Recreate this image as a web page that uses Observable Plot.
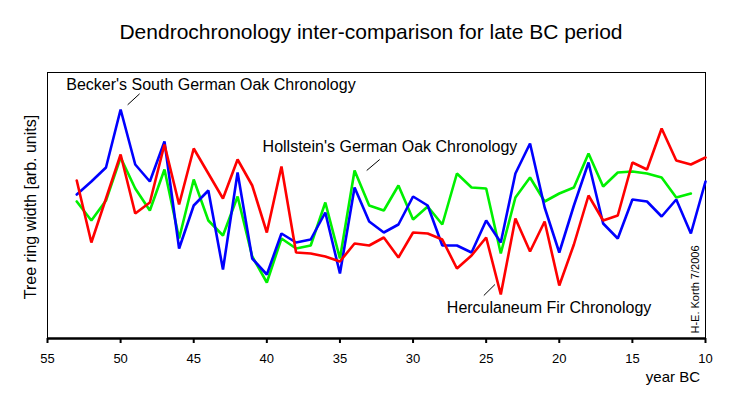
<!DOCTYPE html>
<html>
<head>
<meta charset="utf-8">
<script src="https://cdn.jsdelivr.net/npm/d3@7"></script>
<script src="https://cdn.jsdelivr.net/npm/@observablehq/plot@0.6"></script>
<style>
  body { margin: 0; background: #fff; }
  #chart { position: relative; width: 730px; height: 394px; }
  #chart svg { display: block; }
  g[aria-label="x-axis tick"] path { stroke-width: 2; }
</style>
</head>
<body>
<div id="chart"></div>
<script>
// ---- Data ----
const years = [53,52,51,50,49,48,47,46,45,44,43,42,41,40,39,38,37,36,35,34,33,32,31,30,29,28,27,26,25,24,23,22,21,20,19,18,17,16,15,14,13,12,11,10];
const beckerYears = years;
const becker = [144,157,171,229,174,157,197,90,133,148,69,166,80,64,105,96,99,126,65,151,117,106,114,142,133,93,93,86,118,96,165,195,131,86,133,176,115,100,139,137,122,139,105,157];
const herculaneumYears = years;
const herculaneum = [158,96,140,184,125,136,194,134,190,165,140,179,153,106,172,86,85,82,77,95,93,101,81,106,105,99,70,83,101,44,120,87,117,53,94,143,118,123,176,169,210,178,174,181];
const hollsteinYears = years.slice(0, 43); // 53 .. 11 BC
const hollstein = [137,118,138,181,150,128,169,100,159,118,103,142,82,56,100,90,93,136,80,168,133,128,153,119,132,114,165,151,150,85,141,161,137,145,151,185,152,166,167,165,161,141,145];

const xTicks = [55,50,45,40,35,30,25,20,15,10];
const seriesNames = ["Hollstein's German Oak Chronology", "Becker's South German Oak Chronology", "Herculaneum Fir Chronology"];
const seriesColors = ["#00f000", "#0000ff", "#ff0000"];

const title = "Dendrochronology inter-comparison for late BC period";
const yLabel = "Tree ring width [arb. units]";
const xLabel = "year BC";
const credit = "H-E. Korth 7/2006";

// annotation label anchors and leader lines (data coordinates)
const labelNames = ["Becker's South German Oak Chronology", "Hollstein's German Oak Chronology", "Herculaneum Fir Chronology"];
const labelX = [53.72, 40.29, 27.69];
const labelY = [254, 192, 31];
const leaderX1 = [49.52, 33.17, 25.16];
const leaderY1 = [233.7, 168, 43];
const leaderX2 = [48.70, 32.28, 24.40];
const leaderY2 = [244.7, 179, 54];

// ---- build tables ----
const toRows = (name, ys, vs) => ys.map((yr, i) => ({series: name, year: yr, value: vs[i]}));
const hollRows = toRows(seriesNames[0], hollsteinYears, hollstein);
const beckRows = toRows(seriesNames[1], beckerYears, becker);
const hercRows = toRows(seriesNames[2], herculaneumYears, herculaneum);
const labels = labelNames.map((t, i) => ({text: t, x: labelX[i], y: labelY[i]}));
const leaders = labelNames.map((t, i) => ({x1: leaderX1[i], y1: leaderY1[i], x2: leaderX2[i], y2: leaderY2[i]}));

const font = "'Liberation Sans', Arial, sans-serif";

const chart = Plot.plot({
  width: 730,
  height: 394,
  marginLeft: 47,
  marginRight: 25,
  marginTop: 72,
  marginBottom: 56,
  style: {fontFamily: font, fontSize: "13px", background: "#fff", color: "#000"},
  x: {domain: [55, 10], ticks: xTicks, tickFormat: d => String(d), tickSize: 5, tickPadding: 10, label: null},
  y: {domain: [0, 266], axis: null},
  marks: [
    Plot.frame({stroke: "#000", strokeWidth: 1}),
    Plot.ruleY([0], {stroke: "#000", strokeWidth: 2.5}),
    Plot.line(hollRows, {x: "year", y: "value", stroke: seriesColors[0], strokeWidth: 2.6, strokeLinejoin: "miter"}),
    Plot.line(beckRows, {x: "year", y: "value", stroke: seriesColors[1], strokeWidth: 2.6, strokeLinejoin: "miter"}),
    Plot.line(hercRows, {x: "year", y: "value", stroke: seriesColors[2], strokeWidth: 2.6, strokeLinejoin: "miter"}),
    Plot.link(leaders, {x1: "x1", y1: "y1", x2: "x2", y2: "y2", stroke: "#000", strokeWidth: 1}),
    Plot.text(labels, {x: "x", y: "y", text: "text", textAnchor: "start", fontSize: 16, fill: "#000"}),
    Plot.text([credit], {x: [10.71], y: [49], text: d => d, rotate: -90, fontSize: 11, fill: "#000"})
  ]
});

const svg = d3.select(chart);
svg.append("text")
  .attr("x", 371).attr("y", 33)
  .attr("text-anchor", "middle").attr("dominant-baseline", "middle")
  .style("font-family", font).style("font-size", "21px").attr("fill", "#000")
  .text(title);
svg.append("text")
  .attr("transform", "translate(31.5,207) rotate(-90)")
  .attr("text-anchor", "middle").attr("dominant-baseline", "middle")
  .style("font-family", font).style("font-size", "16px").attr("fill", "#000")
  .text(yLabel);
svg.append("text")
  .attr("x", 700).attr("y", 378)
  .attr("text-anchor", "end").attr("dominant-baseline", "middle")
  .style("font-family", font).style("font-size", "15px").attr("fill", "#000")
  .text(xLabel);

document.getElementById("chart").appendChild(chart);
</script>
</body>
</html>
